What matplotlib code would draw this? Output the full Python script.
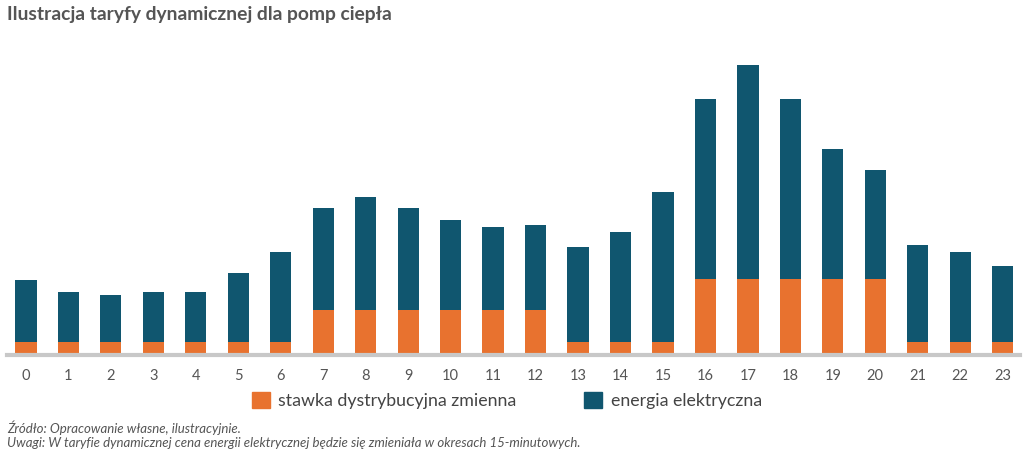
import numpy as np
import matplotlib.pyplot as plt
from matplotlib.patches import Patch

plt.rcParams['font.family'] = ['Lato', 'DejaVu Sans']

hours = list(range(24))
stawka = [13, 13, 13, 13, 13, 13, 13, 45, 45, 45, 45, 45, 45, 13, 13, 13,
          75, 75, 75, 75, 75, 13, 13, 13]
suma = [74, 63, 60, 63, 63, 81, 102, 146, 157, 146, 134, 127, 129, 107, 122, 162,
        254, 288, 254, 205, 184, 109, 102, 88]
energia = [s - d for s, d in zip(suma, stawka)]

orange = '#e8722f'
blue = '#10566f'
grey_txt = '#555555'

fig = plt.figure(figsize=(10.24, 4.59), dpi=100)
ax = fig.add_axes([0.0068, 0.2266, 0.989, 0.667])

x = np.arange(len(hours))
ax.bar(x, stawka, width=0.5, color=orange, zorder=2)
ax.bar(x, energia, width=0.5, bottom=stawka, color=blue, zorder=2)

ax.set_xlim(-0.447, 23.4)
ax.set_ylim(0, 304)
ax.set_xticks(x)
ax.set_xticklabels([str(h) for h in hours], fontsize=10.5, color=grey_txt)
ax.tick_params(axis='x', length=0, pad=10)
ax.set_yticks([])
for s in ['top', 'left', 'right']:
    ax.spines[s].set_visible(False)
ax.spines['bottom'].set_color('#c8c8c8')
ax.spines['bottom'].set_linewidth(3)

handles = [Patch(color=orange, label='stawka dystrybucyjna zmienna'),
           Patch(color=blue, label='energia elektryczna')]
fig.legend(handles=handles, loc='center', bbox_to_anchor=(0.495, 0.127), ncol=2,
           frameon=False, fontsize=12.8, handlelength=1.0, handleheight=1.0,
           columnspacing=3.8, handletextpad=0.5, labelcolor='#444444')

fig.text(0.007, 0.969, 'Ilustracja taryfy dynamicznej dla pomp ciepła', fontsize=13.9,
         fontweight='bold', color=grey_txt, va='center', ha='left')
fig.text(0.007, 0.068, 'Źródło: Opracowanie własne, ilustracyjnie.', fontsize=9.5,
         style='italic', color=grey_txt, va='center', ha='left')
fig.text(0.007, 0.034, 'Uwagi: W taryfie dynamicznej cena energii elektrycznej będzie się zmieniała w okresach 15-minutowych.',
         fontsize=9.5, style='italic', color=grey_txt, va='center', ha='left')

fig.savefig('out.png', dpi=100, facecolor='white')
